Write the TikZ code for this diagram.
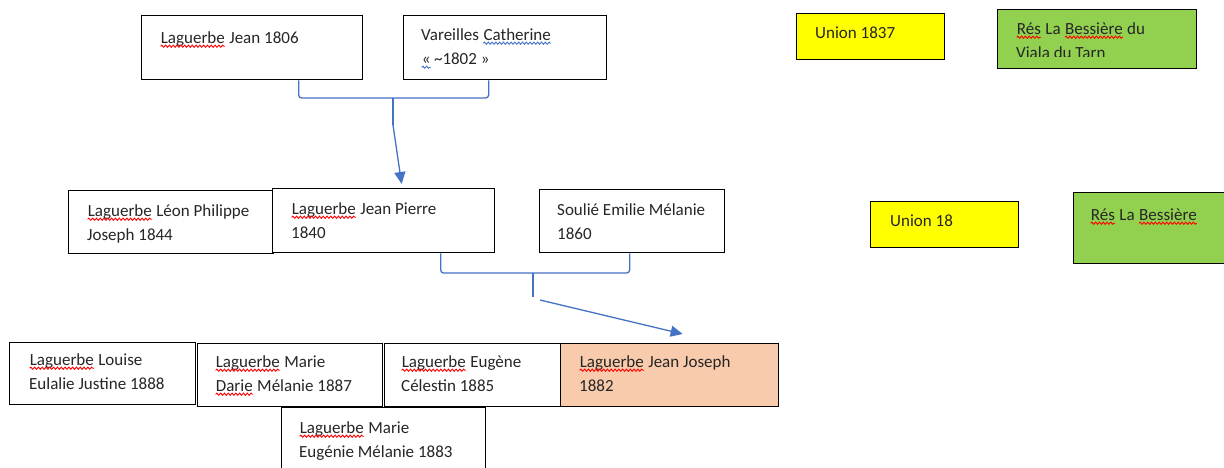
\documentclass[tikz,border=0pt]{standalone}
\usepackage{fontspec}
\setmainfont{Carlito}
\usetikzlibrary{arrows.meta,decorations.pathmorphing}
\definecolor{linkblue}{HTML}{4472C4}
\definecolor{unionyellow}{HTML}{FFFF00}
\definecolor{resgreen}{HTML}{92D050}
\definecolor{selfpeach}{HTML}{F8CBAD}
\tikzset{
  person/.style={draw=black, line width=1.3pt, fill=white, inner sep=0pt, anchor=north west},
  txt/.style={anchor=base west, inner sep=0pt, align=left, text=black!85,
    font=\fontsize{17}{24}\selectfont},
  bracket/.style={draw=linkblue, line width=1.3pt, rounded corners=3pt},
  parentarrow/.style={bracket, -{Triangle[length=12pt,width=11pt]}},
}
% spell-check wave under a word
\newcommand{\wavy}[2][red]{\tikz[baseline=(w.base)]{\node[inner sep=0pt, anchor=base west] (w) {#2};
  \draw[#1, line width=0.9pt, decorate, decoration={snake, amplitude=1.1pt, segment length=3.8pt}]
    ([yshift=-3.2pt]w.base west) -- ([yshift=-3.2pt]w.base east);}}
\begin{document}
\begin{tikzpicture}[x=1pt, y=-1pt]
  \useasboundingbox (0,0) rectangle (1224,467);

  % Parents (text placed at the baseline of its last line)
  \node[person, minimum width=221pt, minimum height=64pt] (jean) at (141,15) {};
  \node[txt] (jeanT) at (160,43) {\wavy{Laguerbe} Jean 1806};
  \node[person, minimum width=203pt, minimum height=64pt] (cath) at (403,15) {};
  \node[txt] (cathT) at (421,64) {Vareilles \wavy[linkblue]{Catherine}\\\wavy[linkblue]{«}\,\textasciitilde1802 »};

  % Unions and residences
  \node[person, fill=unionyellow, minimum width=148pt, minimum height=46pt] (union1) at (796,13) {};
  \node[txt] (union1T) at (815,38) {Union 1837};
  \node[person, fill=resgreen, minimum width=199pt, minimum height=59pt] (res1) at (997,9) {};
  \begin{scope}
    \clip (997,9) rectangle (1196,56);
    \node[txt] (res1T) at (1016,58) {\wavy{Rés} La \wavy{Bessière} du\\Viala du Tarn};
  \end{scope}
  \node[person, fill=unionyellow, minimum width=148pt, minimum height=46pt] (union2) at (870,201) {};
  \node[txt] (union2T) at (890,226) {Union 18};
  \node[person, fill=resgreen, minimum width=165pt, minimum height=71pt] (res2) at (1073,192) {};
  \node[txt] (res2T) at (1090,220) {\wavy{Rés} La \wavy{Bessière}};

  % Children of 1837
  \node[person, minimum width=205pt, minimum height=63pt] (leon) at (68,190) {};
  \node[txt] (leonT) at (87,240) {\wavy{Laguerbe} Léon Philippe\\Joseph 1844};
  \node[person, minimum width=222pt, minimum height=64pt] (jp) at (272,188) {};
  \node[txt] (jpT) at (291,238) {\wavy{Laguerbe} Jean Pierre\\1840};
  \node[person, minimum width=185pt, minimum height=63pt] (soulie) at (539,189) {};
  \node[txt] (soulieT) at (557,239) {Soulié Emilie Mélanie\\1860};

  % Grandchildren
  \node[person, minimum width=186pt, minimum height=62pt] (louise) at (9,342) {};
  \node[txt] (louiseT) at (29,389) {\wavy{Laguerbe} Louise\\Eulalie Justine 1888};
  \node[person, minimum width=185pt, minimum height=63pt] (darie) at (197,343) {};
  \node[txt] (darieT) at (215,391) {\wavy{Laguerbe} Marie\\\wavy{Darie} Mélanie 1887};
  \node[person, minimum width=176pt, minimum height=63pt] (eugene) at (384,343) {};
  \node[txt] (eugeneT) at (401,391) {\wavy{Laguerbe} Eugène\\Célestin 1885};
  \node[person, fill=selfpeach, minimum width=218pt, minimum height=63pt] (jj) at (560,343) {};
  \node[txt] (jjT) at (579,391) {\wavy{Laguerbe} Jean Joseph\\1882};
  \node[person, minimum width=204pt, minimum height=70pt] (meug) at (281,407) {};
  \node[txt] (meugT) at (299,457) {\wavy{Laguerbe} Marie\\Eugénie Mélanie 1883};

  % Brackets to the children
  \coordinate (u1) at (393,98);
  \draw[bracket] ([xshift=46.5pt]jean.south) |- (u1) -| ([xshift=-16.5pt]cath.south);
  \draw[bracket] (u1) -- ++(0,27) coordinate (a1);
  \draw[parentarrow] (a1) -- ([xshift=18pt, yshift=4pt]jp.north);

  \coordinate (u2) at (533,273);
  \draw[bracket] ([xshift=57pt]jp.south) |- (u2) -| ([xshift=-2.5pt]soulie.south);
  \draw[bracket] (u2) -- ++(0,24) coordinate (a2);
  \draw[parentarrow] ([xshift=7pt, yshift=-3pt]a2) -- ([xshift=13pt, yshift=9pt]jj.north);
\end{tikzpicture}
\end{document}
